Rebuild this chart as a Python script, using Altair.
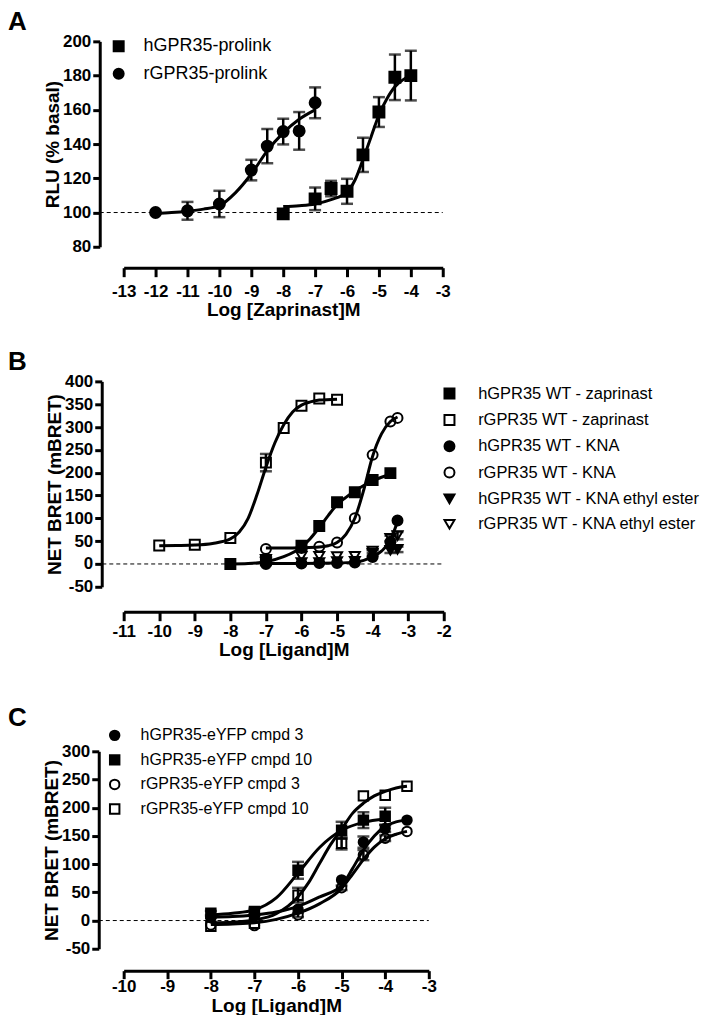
import altair as alt
import pandas as pd

FONT = "Liberation Sans"

# ---------------- Panel A data ----------------
A_names = ["hGPR35-prolink", "rGPR35-prolink"]
A_h_x = [-8, -7, -6.5, -6, -5.5, -5, -4.5, -4]
A_h_y = [99.2, 108, 114, 112.4, 133.7, 158.7, 179, 180]
A_h_e = [0, 6.6, 4.5, 7.3, 10, 8.7, 13.3, 14.5]
A_r_x = [-12, -11, -10, -9, -8.5, -8, -7.5, -7]
A_r_y = [100, 101, 105, 124.8, 138.8, 147.3, 147.7, 164.1]
A_r_e = [0, 5.2, 7.7, 6, 10, 7.5, 11, 9]
A_hc_x = [-8, -7.5, -7, -6.5, -6, -5.75, -5.5, -5.25, -5, -4.75, -4.5, -4.25, -4]
A_hc_y = [103.5, 104, 105, 107.5, 112, 119, 131, 144, 157, 166.5, 173.5, 177.5, 180]
A_rc_x = [-12, -11.5, -11, -10.5, -10, -9.5, -9, -8.5, -8, -7.5, -7]
A_rc_y = [99.5, 100, 100.8, 102, 104, 111.5, 122.5, 136, 146.5, 154.5, 160]

# ---------------- Panel B data ----------------
B_names = ["hGPR35 WT - zaprinast", "rGPR35 WT - zaprinast", "hGPR35 WT - KNA",
           "rGPR35 WT - KNA", "hGPR35 WT - KNA ethyl ester", "rGPR35 WT - KNA ethyl ester"]
B_hz_x = [-8, -7, -6, -5.5, -5, -4.5, -4, -3.5]
B_hz_y = [0, 8, 40, 83, 135, 157, 184, 199]
B_hz_e = [0, 0, 0, 0, 0, 0, 0, 0]
B_rz_x = [-10, -9, -8, -7, -6.5, -6, -5.5, -5]
B_rz_y = [40.6, 42, 56.7, 222, 298, 346.5, 362.5, 359.6]
B_rz_e = [0, 0, 0, 19, 0, 0, 0, 0]
B_k_x = [-7, -6, -5.5, -5, -4.5, -4, -3.5, -3.3]
B_hk_y = [0, 1, 2, 2, 3, 15, 48, 95]
B_hk_e = [0, 0, 0, 0, 0, 0, 0, 0]
B_rk_y = [33, 35, 38, 47, 100, 239, 312, 320]
B_rk_e = [0, 0, 0, 0, 0, 0, 0, 0]
B_he_y = [4, 3, 3, 5, 6, 24, 30, 32]
B_he_e = [0, 0, 0, 0, 0, 6, 6, 6]
B_re_y = [10, 17, 17, 16, 17, 28, 56, 62]
B_re_e = [0, 0, 0, 0, 0, 4, 6, 8]
B_hzc_x = [-8, -7.5, -7, -6.5, -6, -5.75, -5.5, -5.25, -5, -4.75, -4.5, -4.25, -4, -3.75, -3.5]
B_hzc_y = [0, 1, 5, 16, 37, 56, 80, 106, 130, 146, 160, 172, 182, 190, 196]
B_rzc_x = [-10, -9.5, -9, -8.5, -8, -7.75, -7.5, -7.25, -7, -6.75, -6.5, -6.25, -6, -5.75, -5.5, -5]
B_rzc_y = [40, 40.5, 41.5, 45, 55, 70, 100, 152, 212, 265, 305, 333, 348, 355, 359, 361]
B_rkc_x = [-7, -6.5, -6, -5.5, -5.25, -5, -4.75, -4.5, -4.25, -4, -3.75, -3.5, -3.3]
B_rkc_y = [35, 35, 35.5, 37, 40, 47, 65, 100, 162, 236, 285, 312, 322]
B_hkc_x = [-7, -6, -5, -4.5, -4.25, -4, -3.75, -3.5, -3.3]
B_hkc_y = [1, 1, 2, 4, 8, 16, 28, 52, 93]

# ---------------- Panel C data ----------------
C_names = ["hGPR35-eYFP cmpd 3", "hGPR35-eYFP cmpd 10", "rGPR35-eYFP cmpd 3", "rGPR35-eYFP cmpd 10"]
C_x7 = [-8, -7, -6, -5, -4.5, -4, -3.5]
C_x6 = [-8, -7, -6, -5, -4.5, -4]
C_h3_y = [5, 8, 20, 72, 139, 163, 178]
C_h3_e = [0, 0, 0, 0, 10, 6, 0]
C_h10_y = [13, 16, 89, 160, 178, 185]
C_h10_e = [4, 5, 15, 15, 14, 15]
C_r3_y = [-8, -9, 10, 58, 116, 146, 158]
C_r3_e = [0, 0, 4, 4, 9, 5, 0]
C_r10_y = [-10, -5, 45, 137, 221, 222, 238]
C_r10_e = [0, 0, 13, 11, 0, 0, 0]
C_h3c_x = [-8, -7.5, -7, -6.5, -6, -5.5, -5, -4.75, -4.5, -4.25, -4, -3.75, -3.5]
C_h3c_y = [6, 7, 10, 15, 25, 42, 62, 92, 125, 150, 167, 175, 178]
C_h10c_x = [-8, -7.5, -7, -6.5, -6, -5.5, -5, -4.5, -4]
C_h10c_y = [10, 13, 19, 40, 84, 130, 160, 174, 180]
C_r3c_x = [-8, -7.5, -7, -6.5, -6, -5.5, -5, -4.75, -4.5, -4.25, -4, -3.75, -3.5]
C_r3c_y = [-7, -6, -4, 2, 13, 30, 57, 82, 108, 130, 145, 153, 158]
C_r10c_x = [-8, -7.5, -7, -6.5, -6, -5.75, -5.5, -5.25, -5, -4.75, -4.5, -4.25, -4, -3.75, -3.5]
C_r10c_y = [-4, -3, 1, 12, 42, 68, 102, 135, 162, 190, 208, 221, 229, 235, 238]


def pts_df(rows):
    recs = []
    for name, xs, ys, es in rows:
        for x, y, e in zip(xs, ys, es):
            recs.append({"series": name, "x": x, "y": y, "e": e, "lo": y - e, "hi": y + e})
    return pd.DataFrame(recs)


def curve_df(rows):
    recs = []
    for name, xs, ys in rows:
        for x, y in zip(xs, ys):
            recs.append({"series": name, "x": x, "y": y})
    return pd.DataFrame(recs)


LABEL_EXPR = "datum.value < 0 ? '-' + abs(datum.value) : '' + datum.value"


def panel(pts, curves, names, shapes, fills, xdom, ydom, yticks, yrange, w, h,
          xoff, yoff, xtitle, ytitle, letter, tdx, tdy, leg, base_x0, base_y, msize,
          xts, xlp, xtp):
    xsc = alt.Scale(domain=xdom, nice=False, zero=False)
    ykw = dict(domain=ydom, nice=False, zero=False)
    if yrange is not None:
        ykw["range"] = yrange
    ysc = alt.Scale(**ykw)
    xticks = list(range(int(xdom[0]), int(xdom[1]) + 1))
    xax = alt.Axis(values=xticks, offset=xoff, title=xtitle, labelExpr=LABEL_EXPR,
                   labelOverlap=False, labelFlush=False, tickSize=xts, labelPadding=xlp,
                   titlePadding=xtp)
    yax = alt.Axis(values=yticks, offset=yoff, title=ytitle, labelExpr=LABEL_EXPR,
                   labelOverlap=False, labelFlush=False, tickSize=7, labelPadding=2,
                   titlePadding=0)
    X = alt.X("x:Q", scale=xsc, axis=xax)
    Y = alt.Y("y:Q", scale=ysc, axis=yax)

    base = pd.DataFrame({"x": [base_x0], "x2": [xdom[1]], "y": [base_y]})
    baseline = alt.Chart(base).mark_rule(strokeDash=[4, 3], strokeWidth=1, color="black").encode(
        x=alt.X("x:Q", scale=xsc, axis=xax), x2="x2:Q", y=alt.Y("y:Q", scale=ysc, axis=yax))

    lines = alt.Chart(curves).mark_line(interpolate="monotone", strokeWidth=3, color="black").encode(
        x=X, y=Y, detail="series:N")

    eb = pts[pts["e"] > 0]
    rules = alt.Chart(eb).mark_rule(strokeWidth=2.5, color="black").encode(
        x=X, y=alt.Y("lo:Q", scale=ysc, axis=yax), y2="hi:Q")
    caps_rows = pd.concat([eb.assign(yc=eb["lo"]), eb.assign(yc=eb["hi"])])
    caps = alt.Chart(caps_rows).mark_tick(orient="horizontal", size=12, thickness=2.5, color="black").encode(
        x=X, y=alt.Y("yc:Q", scale=ysc, axis=yax))

    L = alt.Legend(title=None, orient="none", legendX=leg["x"], legendY=leg["y"],
                   labelFont=FONT, labelFontSize=leg["fs"], labelColor="black",
                   symbolSize=leg["ss"], symbolStrokeWidth=2, symbolStrokeColor="black",
                   rowPadding=leg["rp"], labelOffset=leg["lo"], padding=0, labelLimit=400)
    points = alt.Chart(pts).mark_point(filled=True, strokeWidth=2, opacity=1,
                                       fillOpacity=1, strokeOpacity=1, size=msize).encode(
        x=X, y=Y,
        shape=alt.Shape("series:N", scale=alt.Scale(domain=names, range=shapes), legend=L, sort=names),
        fill=alt.Fill("series:N", scale=alt.Scale(domain=names, range=fills), legend=L, sort=names),
        stroke=alt.Stroke("series:N", scale=alt.Scale(domain=names, range=["black"] * len(names)),
                          legend=L, sort=names),
    )
    title = alt.TitleParams(text=letter, anchor="start", frame="group", font=FONT, fontSize=26,
                            fontWeight="bold", color="black", dx=tdx, dy=tdy, offset=0)
    return alt.layer(baseline, lines, rules, caps, points).properties(
        width=w, height=h, title=title)


# Panel A
A_pts = pts_df([(A_names[0], A_h_x, A_h_y, A_h_e), (A_names[1], A_r_x, A_r_y, A_r_e)])
A_cur = curve_df([(A_names[0], A_hc_x, A_hc_y), (A_names[1], A_rc_x, A_rc_y)])
chartA = panel(A_pts, A_cur, A_names, ["square", "circle"], ["black", "black"],
               [-13, -3], [80, 200], [80, 100, 120, 140, 160, 180, 200], None, 320, 206,
               21, 24, "Log [Zaprinast]M", "RLU (% basal)", "A", -116, 3,
               {"x": -14, "y": -4, "fs": 18, "ss": 100, "rp": 9.5, "lo": 16}, -13.75, 100, 120,
               9, 7, 1)

# Panel B
B_pts = pts_df([(B_names[0], B_hz_x, B_hz_y, B_hz_e), (B_names[1], B_rz_x, B_rz_y, B_rz_e),
                (B_names[2], B_k_x, B_hk_y, B_hk_e), (B_names[3], B_k_x, B_rk_y, B_rk_e),
                (B_names[4], B_k_x, B_he_y, B_he_e), (B_names[5], B_k_x, B_re_y, B_re_e)])
B_cur = curve_df([(B_names[0], B_hzc_x, B_hzc_y), (B_names[1], B_rzc_x, B_rzc_y),
                  (B_names[3], B_rkc_x, B_rkc_y), (B_names[2], B_hkc_x, B_hkc_y)])
chartB = panel(B_pts, B_cur, B_names,
               ["square", "square", "circle", "circle", "triangle-down", "triangle-down"],
               ["black", "transparent", "black", "transparent", "black", "transparent"],
               [-11, -2], [-50, 400], list(range(-50, 401, 50)), None, 321, 206,
               25, 22, "Log [Ligand]M", "NET BRET (mBRET)", "B", -116, 3,
               {"x": 318.5, "y": 4, "fs": 16.5, "ss": 100, "rp": 7.4, "lo": 20.5}, -11.6, 0, 100,
               9, 3, 1)

# Panel C
C_pts = pts_df([(C_names[0], C_x7, C_h3_y, C_h3_e), (C_names[1], C_x6, C_h10_y, C_h10_e),
                (C_names[2], C_x7, C_r3_y, C_r3_e), (C_names[3], C_x7, C_r10_y, C_r10_e)])
C_cur = curve_df([(C_names[0], C_h3c_x, C_h3c_y), (C_names[1], C_h10c_x, C_h10c_y),
                  (C_names[2], C_r3c_x, C_r3c_y), (C_names[3], C_r10c_x, C_r10c_y)])
chartC = panel(C_pts, C_cur, C_names, ["circle", "square", "circle", "square"],
               ["black", "black", "transparent", "transparent"],
               [-10, -3], [-50, 300], list(range(-50, 301, 50)), [228, 30], 306, 228,
               22, 25, "Log [Ligand]M", "NET BRET (mBRET)", "C", -116, 10,
               {"x": -17, "y": 6, "fs": 16, "ss": 90, "rp": 6.6, "lo": 18}, -10.57, 0, 90,
               8, 0, 2)

chart = alt.vconcat(chartA, chartB, chartC, spacing=135, bounds="flush").resolve_scale(
    shape="independent", fill="independent", stroke="independent"
).resolve_legend(
    shape="independent", fill="independent", stroke="independent"
).properties(
    padding={"top": 0, "left": 0, "right": 0, "bottom": -2}
).configure_view(stroke=None).configure_axis(
    domainColor="black", domainWidth=3, tickColor="black", tickWidth=3,
    labelFont=FONT, labelFontSize=17, labelFontWeight="bold", labelColor="black",
    titleFont=FONT, titleFontSize=19, titleFontWeight="bold", titleColor="black",
    grid=False
)

chart.save("out.html", embed_options={"renderer": "svg", "actions": False})
